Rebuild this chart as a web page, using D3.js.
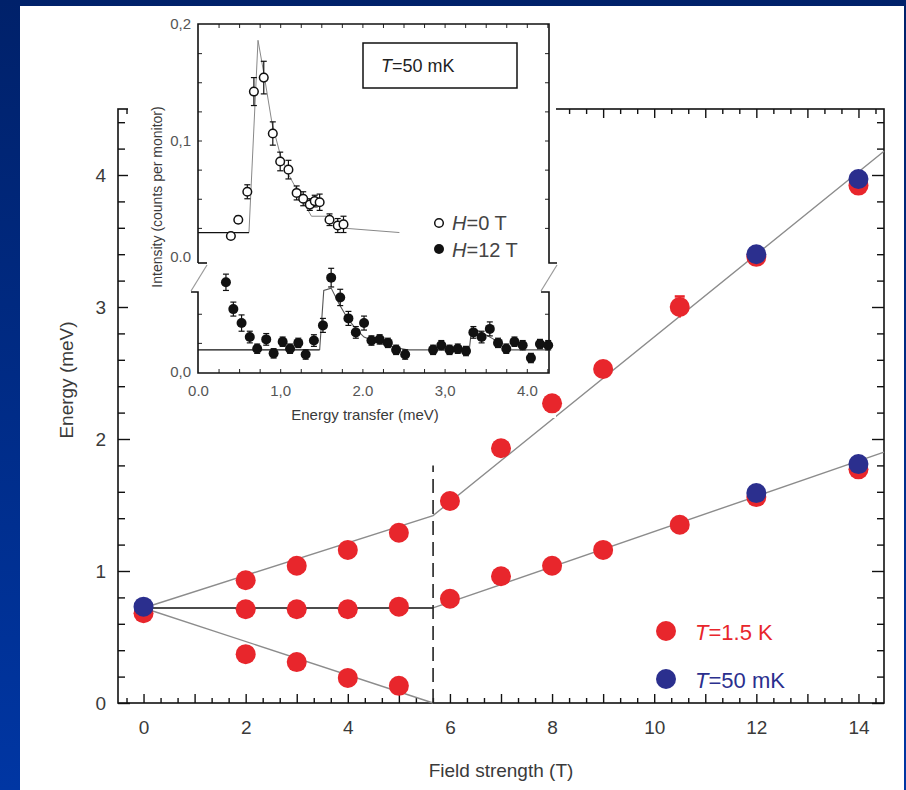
<!DOCTYPE html>
<html>
<head>
<meta charset="utf-8">
<script src="https://cdn.jsdelivr.net/npm/d3@7"></script>
<style>
  html, body { margin: 0; padding: 0; background: #fff; }
  svg { display: block; font-family: "Liberation Sans", Arial, sans-serif; }
</style>
</head>
<body>
<svg id="root" width="906" height="790"></svg>
<script>

// ---- main panel data (field in T, energy in meV) ----
const upperField = [2, 3, 4, 5, 6, 7, 8, 9, 10.5, 12, 14];
const upperEnergy = [0.93, 1.04, 1.16, 1.29, 1.53, 1.93, 2.27, 2.53, 3.00, 3.38, 3.92];
const upperErr = [0, 0, 0, 0, 0, 0, 0, 0, 0.08, 0, 0];
const middleField = [0, 2, 3, 4, 5, 6, 7, 8, 9, 10.5, 12, 14];
const middleEnergy = [0.68, 0.71, 0.71, 0.71, 0.73, 0.79, 0.96, 1.04, 1.16, 1.35, 1.56, 1.77];
const lowerField = [2, 3, 4, 5];
const lowerEnergy = [0.37, 0.31, 0.19, 0.13];
const coldField = [0, 12, 12, 14, 14];
const coldEnergy = [0.73, 3.40, 1.59, 3.97, 1.81];

const criticalField = 5.67;
const fitUpper = [[0, 0.72], [criticalField, 1.42], [14.5, 4.18]];
const fitMiddleFlat = [[0, 0.72], [criticalField, 0.72]];
const fitMiddle = [[criticalField, 0.72], [14.5, 1.90]];
const fitLower = [[0, 0.72], [criticalField, 0]];
const dashTop = 1.8;

const xTickLabels = [0, 2, 4, 6, 8, 10, 12, 14];
const yTickLabels = [0, 1, 2, 3, 4];

// ---- inset data (energy transfer in meV, intensity) ----
const h0Energy = [0.40, 0.49, 0.60, 0.68, 0.80, 0.91, 1.00, 1.10, 1.20, 1.28, 1.36, 1.42, 1.48, 1.60, 1.70, 1.77];
const h0Int = [0.018, 0.032, 0.056, 0.142, 0.154, 0.106, 0.082, 0.075, 0.055, 0.050, 0.045, 0.048, 0.047, 0.032, 0.027, 0.028];
const h0Err = [0.002, 0.003, 0.006, 0.012, 0.014, 0.010, 0.008, 0.008, 0.006, 0.006, 0.005, 0.005, 0.007, 0.005, 0.006, 0.007];
const h0FitBase = [[0, 0.021], [0.62, 0.021]];
const h0Fit = [[0.62, 0.021], [0.73, 0.186], [0.80, 0.158], [0.90, 0.115], [1.0, 0.088], [1.1, 0.071],
  [1.2, 0.058], [1.3, 0.045], [1.38, 0.035], [1.56, 0.035], [1.65, 0.028], [1.73, 0.025], [2.45, 0.021]];

const h12Energy = [0.34, 0.43, 0.53, 0.63, 0.72, 0.83, 0.92, 1.03, 1.12, 1.22, 1.31, 1.41, 1.52, 1.62, 1.73, 1.83,
  1.92, 2.02, 2.11, 2.21, 2.31, 2.41, 2.52, 2.86, 2.96, 3.06, 3.16, 3.26, 3.35, 3.45, 3.55, 3.65, 3.75, 3.85, 3.95, 4.05, 4.16, 4.26];
const h12Int = [0.077, 0.054, 0.042, 0.030, 0.020, 0.028, 0.016, 0.026, 0.020, 0.025, 0.015, 0.027, 0.040, 0.081, 0.064, 0.046,
  0.034, 0.042, 0.027, 0.028, 0.025, 0.019, 0.015, 0.019, 0.023, 0.019, 0.020, 0.018, 0.034, 0.030, 0.037, 0.025, 0.020, 0.026, 0.023, 0.012, 0.024, 0.023];
const h12Err = [0.007, 0.006, 0.007, 0.005, 0.004, 0.005, 0.004, 0.004, 0.004, 0.004, 0.004, 0.005, 0.006, 0.008, 0.007, 0.006,
  0.005, 0.006, 0.004, 0.004, 0.004, 0.004, 0.004, 0.004, 0.004, 0.004, 0.004, 0.004, 0.005, 0.005, 0.006, 0.004, 0.004, 0.004, 0.004, 0.004, 0.004, 0.004];
const h12FitBase = [[0, 0.019], [1.48, 0.019]];
const h12Fit = [[1.48, 0.019], [1.53, 0.070], [1.62, 0.072], [1.72, 0.058], [1.82, 0.046], [1.92, 0.037],
  [2.02, 0.030], [2.2, 0.025], [2.4, 0.021], [2.55, 0.019], [3.30, 0.019], [3.33, 0.038], [3.45, 0.034],
  [3.6, 0.028], [3.7, 0.022], [3.8, 0.019], [4.27, 0.019]];

const insetXLabels = [[0, '0.0'], [1, '1,0'], [2, '2.0'], [3, '3,0'], [4, '4.0']];
const insetUpperLabels = [[0, '0.0'], [0.1, '0,1'], [0.2, '0,2']];

const RED = '#e8262c';
const BLUE = '#2b2f8e';
const TXT = '#3a3a3a';

const svg = d3.select('#root');

// ---- blue slide frame ----
const defs = svg.append('defs');
const grad = defs.append('linearGradient').attr('id', 'bg').attr('x1', 0).attr('y1', 0).attr('x2', 0).attr('y2', 1);
grad.append('stop').attr('offset', '0%').attr('stop-color', '#00216a');
grad.append('stop').attr('offset', '100%').attr('stop-color', '#0036a3');
svg.append('rect').attr('width', 906).attr('height', 790).attr('fill', 'url(#bg)');
svg.append('rect').attr('x', 20).attr('y', 6).attr('width', 884).attr('height', 784).attr('fill', '#fff');

// ---- main scales ----
const x = d3.scaleLinear().domain([-0.5, 14.5]).range([118, 884]);
const y = d3.scaleLinear().domain([0, 4.5]).range([703, 109]);

const thirds = d3.range(-1, 45).map(i => i / 3).filter(v => v > -0.5 && v < 14.5 && Math.abs(v - Math.round(v)) > 0.01);
const ints = d3.range(0, 15);
const fifths = d3.range(0, 23).map(i => i / 5).filter(v => Math.abs(v - Math.round(v)) > 0.01);

const axisStyle = g => {
  g.select('.domain').remove();
  g.selectAll('line').attr('stroke', '#111').attr('stroke-width', 1.4);
  g.selectAll('text').attr('fill', TXT).attr('font-size', 19);
};

// minor + major ticks, inward
const gAx = svg.append('g');
gAx.append('g').attr('transform', 'translate(0,703)')
  .call(d3.axisBottom(x).tickValues(thirds).tickSize(-5).tickFormat('')).call(axisStyle);
gAx.append('g').attr('transform', 'translate(0,703)')
  .call(d3.axisBottom(x).tickValues(ints).tickSize(-9).tickPadding(18)
    .tickFormat(d => xTickLabels.includes(d) ? d : '')).call(axisStyle);
gAx.append('g').attr('transform', 'translate(0,109)')
  .call(d3.axisTop(x).tickValues(thirds).tickSize(-5).tickFormat('')).call(axisStyle);
gAx.append('g').attr('transform', 'translate(0,109)')
  .call(d3.axisTop(x).tickValues(ints).tickSize(-9).tickFormat('')).call(axisStyle);
gAx.append('g').attr('transform', 'translate(118,0)')
  .call(d3.axisLeft(y).tickValues(fifths).tickSize(-7).tickFormat('')).call(axisStyle);
gAx.append('g').attr('transform', 'translate(118,0)')
  .call(d3.axisLeft(y).tickValues(yTickLabels).tickSize(-12).tickPadding(12).tickFormat(d3.format('d'))).call(axisStyle);
gAx.append('g').attr('transform', 'translate(884,0)')
  .call(d3.axisRight(y).tickValues(fifths).tickSize(-7).tickFormat('')).call(axisStyle);
gAx.append('g').attr('transform', 'translate(884,0)')
  .call(d3.axisRight(y).tickValues(yTickLabels).tickSize(-12).tickFormat('')).call(axisStyle);
svg.append('rect').attr('x', 118).attr('y', 109).attr('width', 766).attr('height', 594)
  .attr('fill', 'none').attr('stroke', '#111').attr('stroke-width', 1.6);

// axis titles
svg.append('text').attr('x', 501).attr('y', 777).attr('text-anchor', 'middle')
  .attr('font-size', 19).attr('fill', TXT).text('Field strength (T)');
svg.append('text').attr('transform', 'translate(73,380) rotate(-90)').attr('text-anchor', 'middle')
  .attr('font-size', 19).attr('fill', TXT).text('Energy (meV)');

// ---- fit lines ----
const line = d3.line().x(d => x(d[0])).y(d => y(d[1]));
const gFit = svg.append('g').attr('fill', 'none');
[fitUpper, fitMiddle, fitLower].forEach(seg => {
  gFit.append('path').attr('d', line(seg)).attr('stroke', '#8c8c8c').attr('stroke-width', 1.4);
});
gFit.append('path').attr('d', line(fitMiddleFlat)).attr('stroke', '#111').attr('stroke-width', 1.6);
gFit.append('line').attr('x1', x(criticalField)).attr('x2', x(criticalField))
  .attr('y1', y(0)).attr('y2', y(dashTop))
  .attr('stroke', '#222').attr('stroke-width', 1.6).attr('stroke-dasharray', '14,7');

// ---- inset ----
const xi = d3.scaleLinear().domain([0, 4.27]).range([198, 549]);
const yu = d3.scaleLinear().domain([0, 0.2]).range([257, 24]);
const yl = d3.scaleLinear().domain([0, 0.05]).range([372, 313.75]);
const upBottom = 263, loTop = 292, inBottom = 373;

const gIn = svg.append('g');
gIn.append('rect').attr('x', 128).attr('y', 10).attr('width', 428).attr('height', 408).attr('fill', '#fff');

const inStyle = g => {
  g.select('.domain').remove();
  g.selectAll('line').attr('stroke', '#222').attr('stroke-width', 1);
  g.selectAll('text').attr('fill', '#555').attr('font-size', 15);
};
const qx = d3.range(1, 18).map(i => i / 4).filter(v => v < 4.27);
const qu = d3.range(1, 8).map(i => i * 0.025);
const ql = [0.025, 0.05];

gIn.append('g').attr('transform', `translate(0,${inBottom})`)
  .call(d3.axisBottom(xi).tickValues(qx).tickSize(-4).tickFormat('')).call(inStyle);
gIn.append('g').attr('transform', `translate(0,${inBottom})`)
  .call(d3.axisBottom(xi).tickValues(insetXLabels.map(d => d[0])).tickSize(0).tickPadding(12)
    .tickFormat((d, i) => insetXLabels[i][1])).call(inStyle);
gIn.append('g').attr('transform', 'translate(0,24)')
  .call(d3.axisTop(xi).tickValues(qx).tickSize(-4).tickFormat('')).call(inStyle);
gIn.append('g').attr('transform', 'translate(198,0)')
  .call(d3.axisLeft(yu).tickValues(qu).tickSize(-4).tickFormat('')).call(inStyle);
gIn.append('g').attr('transform', 'translate(198,0)')
  .call(d3.axisLeft(yu).tickValues(insetUpperLabels.map(d => d[0])).tickSize(0).tickPadding(7)
    .tickFormat((d, i) => insetUpperLabels[i][1])).call(inStyle);
gIn.append('g').attr('transform', 'translate(198,0)')
  .call(d3.axisLeft(yl).tickValues(ql).tickSize(-4).tickFormat('')).call(inStyle);
gIn.append('g').attr('transform', 'translate(198,0)')
  .call(d3.axisLeft(yl).tickValues([0]).tickSize(0).tickPadding(7).tickFormat(() => '0,0')).call(inStyle);
gIn.append('g').attr('transform', 'translate(549,0)')
  .call(d3.axisRight(yu).tickValues(qu).tickSize(-4).tickFormat('')).call(inStyle);
gIn.append('g').attr('transform', 'translate(549,0)')
  .call(d3.axisRight(yl).tickValues(ql).tickSize(-4).tickFormat('')).call(inStyle);

// inset frame with axis breaks
const frame = gIn.append('g').attr('fill', 'none').attr('stroke', '#111').attr('stroke-width', 1.6);
frame.append('path').attr('d', `M198,${upBottom} V24 H549 V${upBottom} H557`);
frame.append('path').attr('d', `M198,${upBottom} H207`);
frame.append('path').attr('d', `M191,${loTop} H198 V${inBottom} H549 V${loTop} H541`);
const brk = gIn.append('g').attr('stroke', '#999').attr('stroke-width', 1.2);
brk.append('line').attr('x1', 207).attr('y1', upBottom + 2).attr('x2', 191).attr('y2', loTop - 1);
brk.append('line').attr('x1', 557).attr('y1', upBottom + 2).attr('x2', 541).attr('y2', loTop - 1);

// inset axis titles
gIn.append('text').attr('x', 365).attr('y', 420).attr('text-anchor', 'middle')
  .attr('font-size', 15).attr('fill', TXT).text('Energy transfer (meV)');
gIn.append('text').attr('transform', 'translate(162,197) rotate(-90)').attr('text-anchor', 'middle')
  .attr('font-size', 14).attr('fill', TXT).text('Intensity (counts per monitor)');

// inset fits
const lineU = d3.line().x(d => xi(d[0])).y(d => yu(d[1]));
const lineL = d3.line().x(d => xi(d[0])).y(d => yl(d[1]));
gIn.append('path').attr('d', lineU(h0Fit)).attr('fill', 'none').attr('stroke', '#888').attr('stroke-width', 1);
gIn.append('path').attr('d', lineU(h0FitBase)).attr('fill', 'none').attr('stroke', '#111').attr('stroke-width', 1.3);
gIn.append('path').attr('d', lineL(h12Fit)).attr('fill', 'none').attr('stroke', '#555').attr('stroke-width', 1.1);
gIn.append('path').attr('d', lineL(h12FitBase)).attr('fill', 'none').attr('stroke', '#111').attr('stroke-width', 1.3);

// inset points with error bars
const drawErr = (g, xs, ys, es, sx, sy) => {
  const eg = g.append('g').attr('stroke', '#111').attr('stroke-width', 1.2);
  xs.forEach((e, i) => {
    const cx = sx(e), y0 = sy(ys[i] - es[i]), y1 = sy(ys[i] + es[i]);
    eg.append('line').attr('x1', cx).attr('x2', cx).attr('y1', y0).attr('y2', y1);
    eg.append('line').attr('x1', cx - 3).attr('x2', cx + 3).attr('y1', y0).attr('y2', y0);
    eg.append('line').attr('x1', cx - 3).attr('x2', cx + 3).attr('y1', y1).attr('y2', y1);
  });
};
drawErr(gIn, h0Energy, h0Int, h0Err, xi, yu);
drawErr(gIn, h12Energy, h12Int, h12Err, xi, yl);
gIn.append('g').selectAll('circle').data(h0Energy).join('circle')
  .attr('cx', d => xi(d)).attr('cy', (d, i) => yu(h0Int[i])).attr('r', 4.3)
  .attr('fill', '#fff').attr('stroke', '#111').attr('stroke-width', 1.5);
gIn.append('g').selectAll('circle').data(h12Energy).join('circle')
  .attr('cx', d => xi(d)).attr('cy', (d, i) => yl(h12Int[i])).attr('r', 5)
  .attr('fill', '#111');

// inset legends
gIn.append('rect').attr('x', 363).attr('y', 43).attr('width', 154).attr('height', 45)
  .attr('fill', '#fff').attr('stroke', '#111').attr('stroke-width', 1.5);
const tBox = gIn.append('text').attr('x', 381).attr('y', 72).attr('font-size', 18).attr('fill', '#222');
tBox.append('tspan').attr('font-style', 'italic').text('T');
tBox.append('tspan').text('=50 mK');

gIn.append('circle').attr('cx', 439).attr('cy', 223).attr('r', 4.3)
  .attr('fill', '#fff').attr('stroke', '#111').attr('stroke-width', 1.5);
gIn.append('circle').attr('cx', 439).attr('cy', 249).attr('r', 5).attr('fill', '#111');
const tH0 = gIn.append('text').attr('x', 452).attr('y', 230).attr('font-size', 20).attr('fill', '#444');
tH0.append('tspan').attr('font-style', 'italic').text('H');
tH0.append('tspan').text('=0 T');
const tH12 = gIn.append('text').attr('x', 452).attr('y', 257).attr('font-size', 20).attr('fill', '#444');
tH12.append('tspan').attr('font-style', 'italic').text('H');
tH12.append('tspan').text('=12 T');

// ---- main data points (drawn last) ----
const gPts = svg.append('g');
const errG = gPts.append('g').attr('stroke', RED).attr('stroke-width', 2.5);
upperField.forEach((f, i) => {
  if (upperErr[i] > 0) {
    errG.append('line').attr('x1', x(f)).attr('x2', x(f))
      .attr('y1', y(upperEnergy[i] - upperErr[i])).attr('y2', y(upperEnergy[i] + upperErr[i]));
    errG.append('line').attr('x1', x(f) - 5).attr('x2', x(f) + 5)
      .attr('y1', y(upperEnergy[i] + upperErr[i])).attr('y2', y(upperEnergy[i] + upperErr[i]));
  }
});
const redPts = [
  ...upperField.map((f, i) => [f, upperEnergy[i]]),
  ...middleField.map((f, i) => [f, middleEnergy[i]]),
  ...lowerField.map((f, i) => [f, lowerEnergy[i]])
];
gPts.append('g').selectAll('circle').data(redPts).join('circle')
  .attr('cx', d => x(d[0])).attr('cy', d => y(d[1])).attr('r', 10).attr('fill', RED);
gPts.append('g').selectAll('circle').data(coldField).join('circle')
  .attr('cx', d => x(d)).attr('cy', (d, i) => y(coldEnergy[i])).attr('r', 10).attr('fill', BLUE);

// main legend
svg.append('circle').attr('cx', 666).attr('cy', 631).attr('r', 10).attr('fill', RED);
svg.append('circle').attr('cx', 666).attr('cy', 679).attr('r', 10).attr('fill', BLUE);
const l1 = svg.append('text').attr('x', 695).attr('y', 640).attr('font-size', 22).attr('fill', RED);
l1.append('tspan').attr('font-style', 'italic').text('T');
l1.append('tspan').text('=1.5 K');
const l2 = svg.append('text').attr('x', 695).attr('y', 688).attr('font-size', 22).attr('fill', BLUE);
l2.append('tspan').attr('font-style', 'italic').text('T');
l2.append('tspan').text('=50 mK');

</script>
</body>
</html>
